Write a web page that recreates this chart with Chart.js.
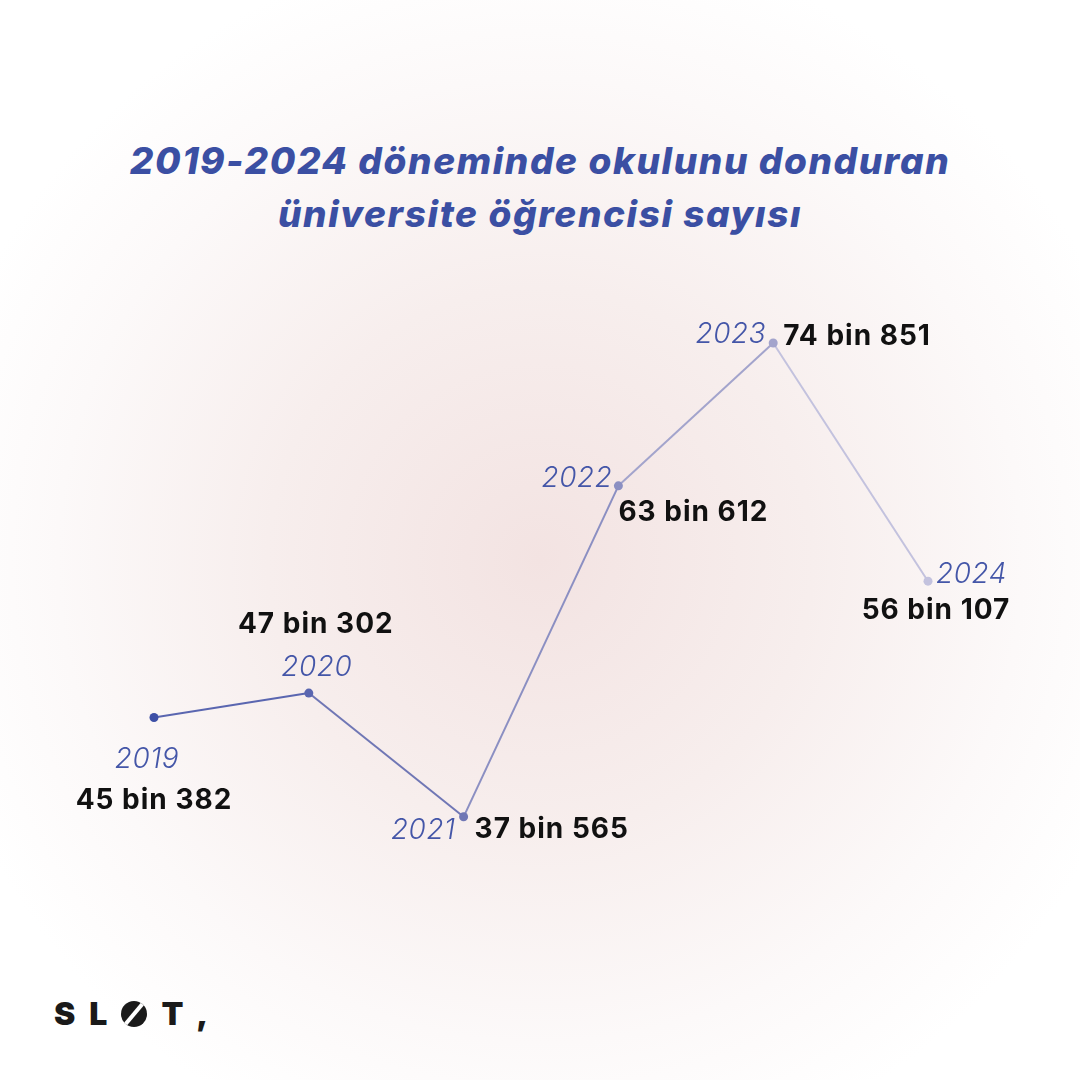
<!DOCTYPE html><html><head><meta charset="utf-8">
<script src="https://cdn.jsdelivr.net/npm/chart.js@4"></script>
<style>html,body{margin:0;padding:0}body{width:1080px;height:1080px;position:relative;overflow:hidden;
background:radial-gradient(circle at 540px 560px,#f3e3e2 0%,#f7eeed 35%,#fcf9f9 62%,#ffffff 80%);font-family:Inter,"Open Sans",sans-serif}
#t{position:absolute;top:134px;left:0;width:1080px;text-align:center;color:#3b4fa3;font-weight:800;font-style:italic;font-size:37px;line-height:53px;letter-spacing:1.6px}
#logo{position:absolute;left:54px;top:994px;font-weight:900;font-size:32px;color:#1a1a1a;letter-spacing:14px}
canvas{position:absolute;left:0;top:0}</style></head><body>
<div id="t">2019-2024 döneminde okulunu donduran<br>üniversite öğrencisi sayısı</div>
<div id="logo">SL<span style="display:inline-block;width:26px;height:26px;border-radius:50%;background:#1a1a1a;vertical-align:-2px;margin-right:14px;position:relative;overflow:hidden"><span style="position:absolute;left:11px;top:-4px;width:4px;height:34px;background:#fff;transform:rotate(40deg)"></span></span>T,</div>
<canvas id="c" width="1080" height="1080"></canvas>
<script>
const years=[2019,2020,2021,2022,2023,2024];
const values=[45382,47302,37565,63612,74851,56107];
const valueLabels=["45 bin 382","47 bin 302","37 bin 565","63 bin 612","74 bin 851","56 bin 107"];
const colors=["#3d4fa6","#5a66b0","#7077b5","#8b8fc2","#a3a4cc","#c3c2de"];
const offs=[[-7,42,"center",0,83,"center"],[8,-25,"center",7,-68,"center"],[-8,14,"right",11,13,"left"],[-6,-7,"right",0,27,"left"],[-7,-8,"right",10,-6,"left"],[8,-7,"left",8,29,"center"]];
const lab={id:"lab",afterDatasetsDraw(ch){const c=ch.ctx;const m=ch.getDatasetMeta(0);
m.data.forEach((p,i)=>{const o=offs[i];c.textBaseline="middle";
c.letterSpacing="0.5px";c.font="italic 300 28px Inter, 'Open Sans'";c.fillStyle="#4456a8";c.textAlign=o[2];c.fillText(String(years[i]),p.x+o[0],p.y+o[1]);
c.letterSpacing="1px";c.font="bold 28px Inter, 'Open Sans'";c.fillStyle="#111";c.textAlign=o[5];c.fillText(valueLabels[i],p.x+o[3],p.y+o[4]);});c.letterSpacing="0px";}};
new Chart(document.getElementById("c"),{type:"line",
data:{datasets:[{data:years.map((y,i)=>({x:y,y:values[i]})),clip:false,borderWidth:2,pointRadius:4.5,pointBorderWidth:0,
pointBackgroundColor:colors,segment:{borderColor:ctx=>colors[ctx.p0DataIndex+1]},tension:0}]},
options:{responsive:false,animation:false,layout:{padding:{left:154,right:152,top:150.5,bottom:40}},
plugins:{legend:{display:false},tooltip:{enabled:false}},
scales:{x:{type:"linear",min:2019,max:2024,display:false},y:{min:20000,max:90000,display:false}}},plugins:[lab]});
</script></body></html>
